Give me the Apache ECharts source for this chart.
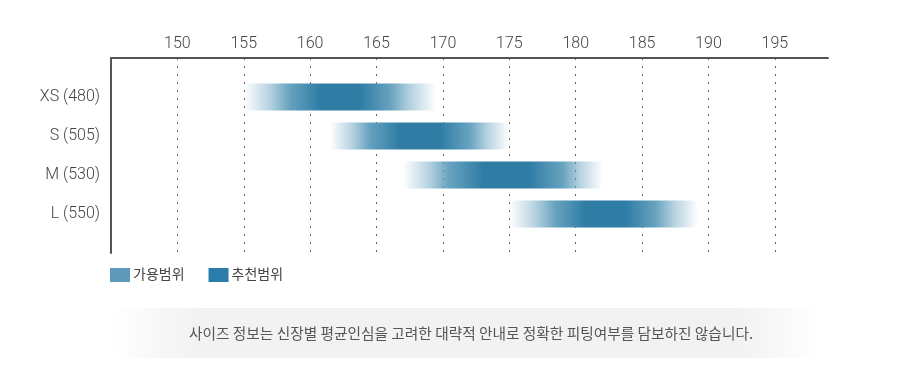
<!DOCTYPE html>
<html><head><meta charset="utf-8">
<script src="https://cdn.jsdelivr.net/npm/echarts@6/dist/echarts.min.js"></script>
<style>html,body{margin:0;padding:0;background:#fff}#c{width:920px;height:377px}</style>
</head><body><div id="c"></div>
<script>
var categories = ['XS (480)', 'S (505)', 'M (530)', 'L (550)'];
var availMin = [155, 161.5, 167, 175];
var availMax = [169.5, 175, 182, 189.2];
var recMin = [158.5, 164.5, 170.5, 178.5];
var recMax = [166, 172, 179, 186];
var xMin = 145, xMax = 199, xStep = 5;
var legendNames = ['가용범위', '추천범위'];
var note = '사이즈 정보는 신장별 평균인심을 고려한 대략적 안내로 정확한 피팅여부를 담보하진 않습니다.';

var DARK = '47,124,165', LIGHT = '94,157,187';
var font = 'Roboto, "Noto Sans CJK KR", sans-serif';
var yCats = [''].concat(categories).concat(['']);
var data = categories.map(function (c, i) {
  return [i + 1, availMin[i], availMax[i], recMin[i], recMax[i]];
});

var chart = echarts.init(document.getElementById('c'));
chart.setOption({
  animation: false,
  grid: { left: 111, right: 92, top: 58, bottom: 124 },
  xAxis: {
    type: 'value', position: 'top', min: xMin, max: xMax, interval: xStep,
    axisLine: { show: true, onZero: false, lineStyle: { color: '#555', width: 2 } },
    axisTick: { show: false },
    axisLabel: { showMinLabel: false, showMaxLabel: false, color: '#444', fontSize: 16, fontWeight: 300, fontFamily: font, margin: 6 },
    splitLine: { show: true, showMinLine: false, showMaxLine: false, lineStyle: { color: '#666', type: [2, 6], width: 1 } }
  },
  yAxis: {
    type: 'category', data: yCats, inverse: true, boundaryGap: false,
    axisLine: { show: true, lineStyle: { color: '#555', width: 2 } },
    axisTick: { show: false },
    axisLabel: { color: '#444', fontSize: 16, fontWeight: 300, fontFamily: font, margin: 11 },
    splitLine: { show: false }
  },
  legend: {
    left: 105, top: 263, itemWidth: 20, itemHeight: 14, itemGap: 24, icon: 'rect',
    textStyle: { color: '#444', fontSize: 14, fontFamily: font, padding: [0, 0, 0, -2] },
    data: legendNames
  },
  series: [
    {
      type: 'custom', name: 'range', data: data,
      encode: { x: [1, 2], y: 0 },
      renderItem: function (params, api) {
        var y = api.value(0), a = api.value(1), b = api.value(2), r1 = api.value(3), r2 = api.value(4);
        var p1 = api.coord([a, y]), p2 = api.coord([b, y]);
        var h = 27, span = b - a;
        var s1 = (r1 - a) / span, s2 = (r2 - a) / span;
        return {
          type: 'rect',
          shape: { x: p1[0], y: p1[1] - h / 2, width: p2[0] - p1[0], height: h },
          style: {
            fill: new echarts.graphic.LinearGradient(0, 0, 1, 0, [
              { offset: 0, color: 'rgba(' + LIGHT + ',0)' },
              { offset: s1 * 0.55, color: 'rgba(' + LIGHT + ',0.45)' },
              { offset: s1, color: 'rgba(' + LIGHT + ',0.95)' },
              { offset: s1 + (s2 - s1) * 0.3, color: 'rgba(' + DARK + ',1)' },
              { offset: s1 + (s2 - s1) * 0.7, color: 'rgba(' + DARK + ',1)' },
              { offset: s2, color: 'rgba(' + LIGHT + ',0.95)' },
              { offset: s2 + (1 - s2) * 0.45, color: 'rgba(' + LIGHT + ',0.45)' },
              { offset: 1, color: 'rgba(' + LIGHT + ',0)' }
            ])
          }
        };
      },
      z: 3
    },
    { type: 'bar', name: legendNames[0], data: [], itemStyle: { color: '#5f9aba' } },
    { type: 'bar', name: legendNames[1], data: [], itemStyle: { color: '#2a7dab' } }
  ],
  graphic: [
    {
      type: 'rect', left: 110, top: 308,
      shape: { width: 712, height: 50 },
      style: {
        fill: new echarts.graphic.LinearGradient(0, 0, 1, 0, [
          { offset: 0, color: 'rgba(242,242,242,0)' },
          { offset: 0.12, color: 'rgba(242,242,242,1)' },
          { offset: 0.88, color: 'rgba(242,242,242,1)' },
          { offset: 1, color: 'rgba(242,242,242,0)' }
        ])
      },
      silent: true
    },
    {
      type: 'text', x: 471, y: 333,
      style: { text: note, fill: '#555', fontSize: 14.7, fontFamily: '"Noto Sans CJK KR", sans-serif', align: 'center', verticalAlign: 'middle' },
      silent: true
    }
  ]
});
</script></body></html>
